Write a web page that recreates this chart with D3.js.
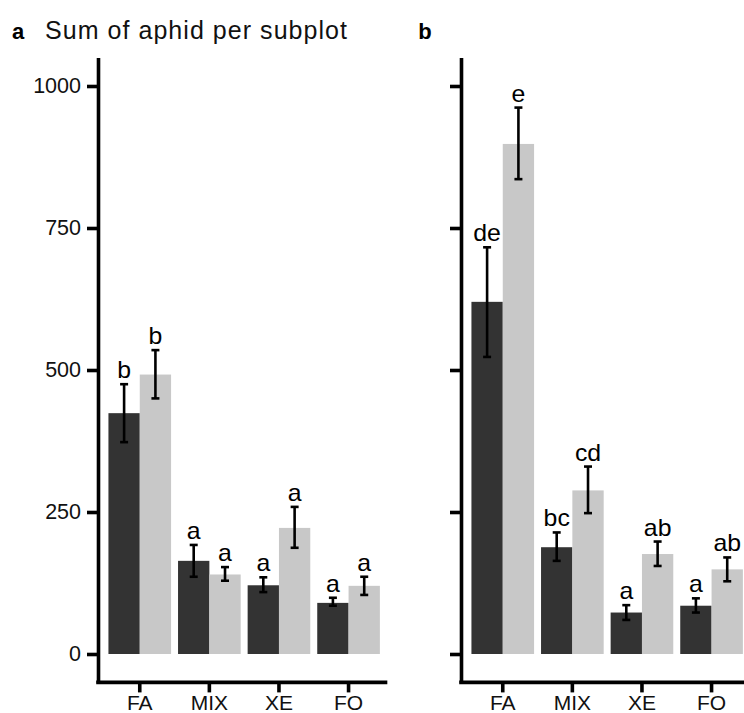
<!DOCTYPE html>
<html><head><meta charset="utf-8">
<script src="https://cdn.jsdelivr.net/npm/d3@7"></script>
<style>body{margin:0;background:#fff;} svg{display:block;}</style>
</head><body>
<svg id="c" width="744" height="713"></svg>
<script>
const categories = ["FA","MIX","XE","FO"];
const series = ["s1","s2"];
const yTicks = [0,250,500,750,1000];
// panel a
const aMean1 = [424,164,121,90];
const aLo1   = [373,136,109,85];
const aHi1   = [475,192,135,99];
const aLet1  = ["b","a","a","a"];
const aMean2 = [492,140,222,120];
const aLo2   = [450,129,187,104];
const aHi2   = [535,153,259,136];
const aLet2  = ["b","a","a","a"];
// panel b
const bMean1 = [620,188,73,85];
const bLo1   = [523,164,60,73];
const bHi1   = [716,214,86,98];
const bLet1  = ["de","bc","a","a"];
const bMean2 = [898,288,176,149];
const bLo2   = [836,248,155,128];
const bHi2   = [962,330,198,170];
const bLet2  = ["e","cd","ab","ab"];
const colors = ["#333333","#c8c8c8"];

const svg = d3.select("#c");
const FONT = "Liberation Sans, Arial, Helvetica, sans-serif";
const y = d3.scaleLinear().domain([-50,1050]).range([682.4,57.6]);

function build(d1,d2){
  return categories.map((c,i)=>({cat:c, vals:[
    {s:"s1",m:d1[0][i],lo:d1[1][i],hi:d1[2][i],l:d1[3][i]},
    {s:"s2",m:d2[0][i],lo:d2[1][i],hi:d2[2][i],l:d2[3][i]}]}));
}

function panel(x0, data, showLabels, tag, tagX, title){
  const unit = 69.6;
  const x = d3.scaleBand().domain(categories).range([x0, x0+4.2*unit]).paddingInner(0.1).paddingOuter(0.15);
  const xs = d3.scaleBand().domain(series).range([0,x.bandwidth()]).padding(0);
  const g = svg.append("g");
  const grp = g.selectAll("g.grp").data(data).join("g").attr("transform",d=>`translate(${x(d.cat)},0)`);
  grp.selectAll("rect").data(d=>d.vals).join("rect")
    .attr("x",d=>xs(d.s)).attr("width",xs.bandwidth())
    .attr("y",d=>y(d.m)).attr("height",d=>y(0)-y(d.m))
    .attr("fill",(d,i)=>colors[i]);
  const eb = grp.selectAll("g.eb").data(d=>d.vals).join("g").attr("class","eb")
    .attr("transform",d=>`translate(${xs(d.s)+xs.bandwidth()/2},0)`);
  eb.append("line").attr("x1",0).attr("x2",0).attr("y1",d=>y(d.lo)).attr("y2",d=>y(d.hi)).attr("stroke","#000").attr("stroke-width",2.6);
  eb.append("line").attr("x1",-4).attr("x2",4).attr("y1",d=>y(d.lo)).attr("y2",d=>y(d.lo)).attr("stroke","#000").attr("stroke-width",2.6);
  eb.append("line").attr("x1",-4).attr("x2",4).attr("y1",d=>y(d.hi)).attr("y2",d=>y(d.hi)).attr("stroke","#000").attr("stroke-width",2.6);
  eb.append("text").text(d=>d.l)
    .attr("transform",d=>`translate(0,${y(d.hi)-6}) scale(1.08,1)`)
    .attr("text-anchor","middle").attr("font-family",FONT).attr("font-size",23).attr("fill","#000");

  // axes
  const ya = d3.axisLeft(y).tickValues(yTicks).tickFormat(d3.format("d")).tickSize(11).tickSizeOuter(0).tickPadding(6);
  const yg = g.append("g").attr("transform",`translate(${x0},0)`).call(ya);
  yg.attr("font-family",FONT).attr("font-size",21.5);
  yg.select(".domain").attr("stroke-width",3.6).attr("stroke","#000");
  yg.selectAll(".tick line").attr("stroke-width",3.6).attr("stroke","#000");
  if(showLabels){
    yg.selectAll(".tick text").attr("x",-17).attr("fill","#111");
  } else {
    yg.selectAll(".tick text").remove();
  }
  const xa = d3.axisBottom(x).tickSize(10).tickSizeOuter(0).tickPadding(3);
  const xg = g.append("g").attr("transform",`translate(0,${y(-50)})`).call(xa);
  xg.attr("font-family",FONT).attr("font-size",21);
  xg.select(".domain").attr("stroke-width",3.6).attr("stroke","#000").attr("d",`M${x0-1.8},0H${x0+4.2*unit-3}`);
  xg.selectAll(".tick line").attr("stroke-width",3.6).attr("stroke","#000");
  xg.selectAll(".tick text").attr("fill","#111");

  svg.append("text").text(tag).attr("x",tagX).attr("y",39)
    .attr("text-anchor","middle").attr("font-family",FONT).attr("font-weight",700).attr("font-size",22).attr("fill","#000");
  if(title){
    svg.append("text").text(title).attr("x",45).attr("y",39)
      .attr("textLength",302).attr("lengthAdjust","spacing")
      .attr("font-family",FONT).attr("font-size",25).attr("fill","#111");
  }
}

panel(98, build([aMean1,aLo1,aHi1,aLet1],[aMean2,aLo2,aHi2,aLet2]), true, "a", 18, "Sum of aphid per subplot");
panel(461, build([bMean1,bLo1,bHi1,bLet1],[bMean2,bLo2,bHi2,bLet2]), false, "b", 425, null);
</script>
</body></html>
